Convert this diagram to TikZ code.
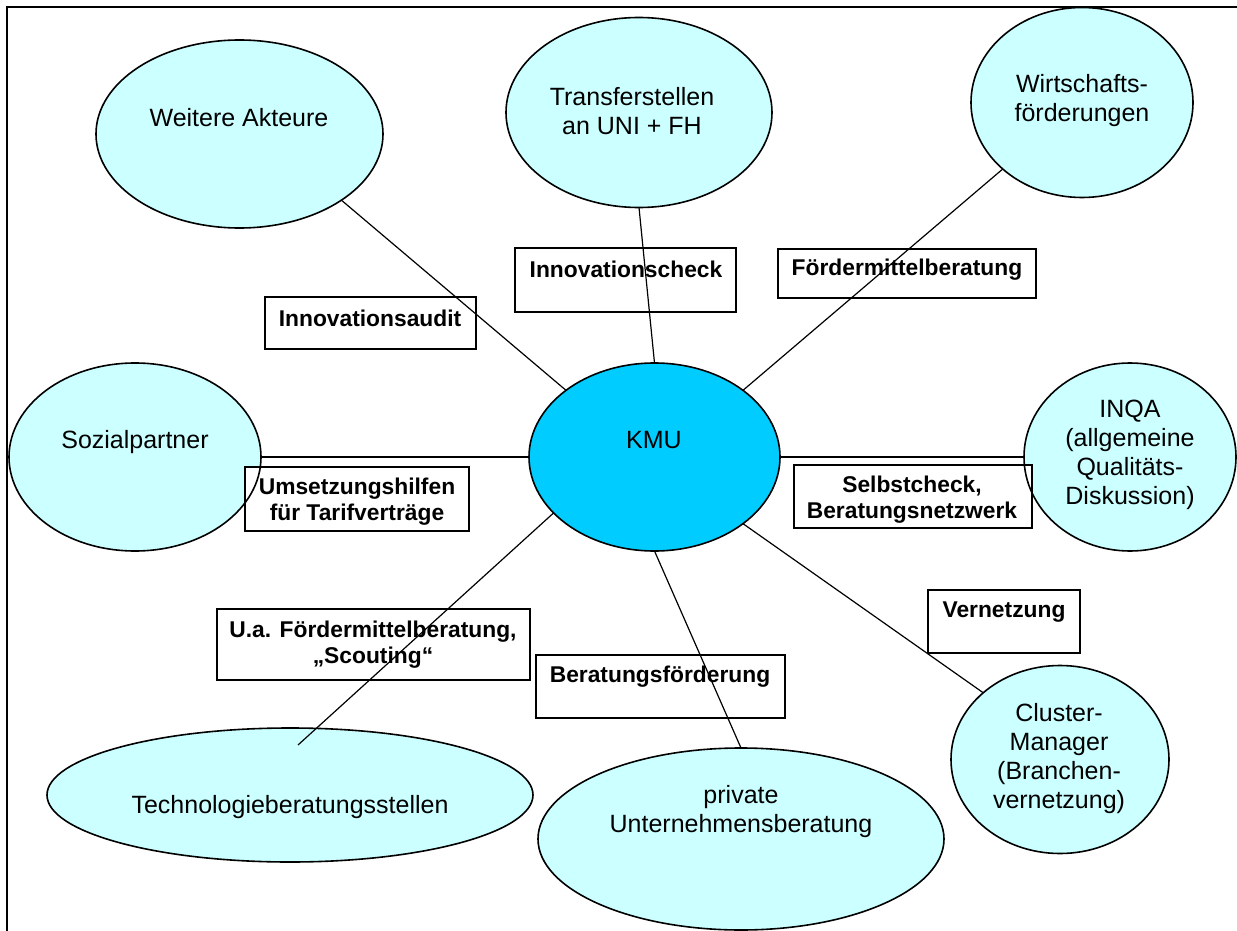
\documentclass[tikz,border=0pt]{standalone}
\usepackage{fontspec}
\setmainfont{Liberation Sans}
\usetikzlibrary{shapes.geometric}
\definecolor{lc}{HTML}{CCFFFF}
\definecolor{kc}{HTML}{00CCFF}
\begin{document}
\begin{tikzpicture}[x=1pt,y=-1pt,
  bfill/.style={ellipse, fill=lc, inner sep=0pt, outer sep=0pt},
  outl/.style={draw=black, line width=1.6pt},
  lbox/.style={rectangle, draw=black, fill=white, line width=1.5pt, inner sep=0pt, outer sep=0pt},
  txt/.style={font=\fontsize{25}{29}\selectfont, align=center, inner sep=0pt},
  lbl/.style={font=\fontsize{22.8}{26}\selectfont\bfseries, align=center, inner sep=0pt},
  con/.style={draw=black, line width=1.2pt},
  frame/.style={draw=black, line width=1.3pt}]
\useasboundingbox (0,0) rectangle (1237,931);
\draw[frame] (7,931) -- (7,7) -- (1237,7);

% ellipse fills
\node[bfill, minimum width=287pt, minimum height=188pt] (wa) at (239.5,134) {};
\node[bfill, minimum width=266pt, minimum height=190pt] (tr) at (639,112.5) {};
\node[bfill, minimum width=222pt, minimum height=190pt] (wf) at (1082,102.5) {};
\node[bfill, fill=kc, minimum width=251pt, minimum height=188pt] (kmu) at (654.5,457) {};
\node[bfill, minimum width=252pt, minimum height=188pt] (soz) at (135,457) {};
\node[bfill, minimum width=212pt, minimum height=188pt] (inqa) at (1130,457) {};
\node[bfill, minimum width=218pt, minimum height=188pt] (cl) at (1060,759.5) {};
\node[bfill, minimum width=406pt, minimum height=182pt] (pr) at (741,839) {};
\node[bfill, minimum width=486pt, minimum height=134pt] (te) at (290,795) {};

% label boxes
\node[lbox, minimum width=211pt, minimum height=52pt] (aud) at (370.5,323) {};
\node[lbox, minimum width=221pt, minimum height=64pt] (chk) at (625.5,280) {};
\node[lbox, minimum width=258pt, minimum height=49pt] (fmb) at (907,273.5) {};
\node[lbox, minimum width=224pt, minimum height=64pt] (ums) at (357,499) {};
\node[lbox, minimum width=238pt, minimum height=63pt] (sel) at (913,496.5) {};
\node[lbox, minimum width=313pt, minimum height=71pt] (ua) at (373.5,644.5) {};
\node[lbox, minimum width=249pt, minimum height=63pt] (ber) at (660.5,686.5) {};
\node[lbox, minimum width=152pt, minimum height=63pt] (ver) at (1004,621.5) {};

% ellipse outlines
\draw[outl] (wa.center) ellipse [x radius=143.5pt, y radius=94pt];
\draw[outl] (tr.center) ellipse [x radius=133pt, y radius=95pt];
\draw[outl] (wf.center) ellipse [x radius=111pt, y radius=95pt];
\draw[outl] (kmu.center) ellipse [x radius=125.5pt, y radius=94pt];
\draw[outl] (soz.center) ellipse [x radius=126pt, y radius=94pt];
\draw[outl] (inqa.center) ellipse [x radius=106pt, y radius=94pt];
\draw[outl] (cl.center) ellipse [x radius=109pt, y radius=94pt];
\draw[outl] (pr.center) ellipse [x radius=203pt, y radius=91pt];
\draw[outl] (te.center) ellipse [x radius=243pt, y radius=67pt];

% ellipse texts
\node[txt] (wa-t) at (239,118) {Weitere Akteure};
\node[txt] (tr-t) at (632,111) {Transferstellen\\an UNI + FH};
\node[txt] (wf-t) at (1082,101) {Wirtschafts-\\förderungen};
\node[txt] (kmu-t) at (654,440) {KMU};
\node[txt] (soz-t) at (135,442) {Sozialpartner};
\node[txt] (inqa-t) at (1130,455) {INQA\\(allgemeine\\Qualitäts-\\Diskussion)};
\node[txt] (cl-t) at (1059,758.5) {Cluster-\\Manager\\(Branchen-\\vernetzung)};
\node[txt] (pr-t) at (741,812) {private\\Unternehmensberatung};
\node[txt] (te-t) at (290,807) {Technologieberatungsstellen};

% box texts
\node[lbl] (aud-t) at (370,318) {Innovationsaudit};
\node[lbl] (chk-t) at (626,269) {Innovationscheck};
\node[lbl] (fmb-t) at (907,270) {Fördermittelberatung};
\node[lbl] (ums-t) at (357,501.5) {Umsetzungshilfen\\für Tarifverträge};
\node[lbl] (sel-t) at (912,500) {Selbstcheck,\\Beratungsnetzwerk};
\node[lbl] (ua-t) at (373,644.5) {U.a. Fördermittelberatung,\\„Scouting“};
\node[lbl] (ber-t) at (660,677) {Beratungsförderung};
\node[lbl] (ver-t) at (1004,612) {Vernetzung};

% connectors
\draw[con] (wa.-33) -- (kmu.143);
\draw[con] (tr.-90) -- (kmu.90);
\draw[con] (wf.220) -- (kmu.37);
\draw[con] (soz.east) -- (kmu.west);
\draw[con] (kmu.east) -- (inqa.west);
\coordinate (teend) at (298,745);
\draw[con] (kmu.-151) -- (teend);
\draw[con] (kmu.south) -- (pr.north);
\draw[con] (kmu.-37) -- (cl.139);
\end{tikzpicture}
\end{document}
